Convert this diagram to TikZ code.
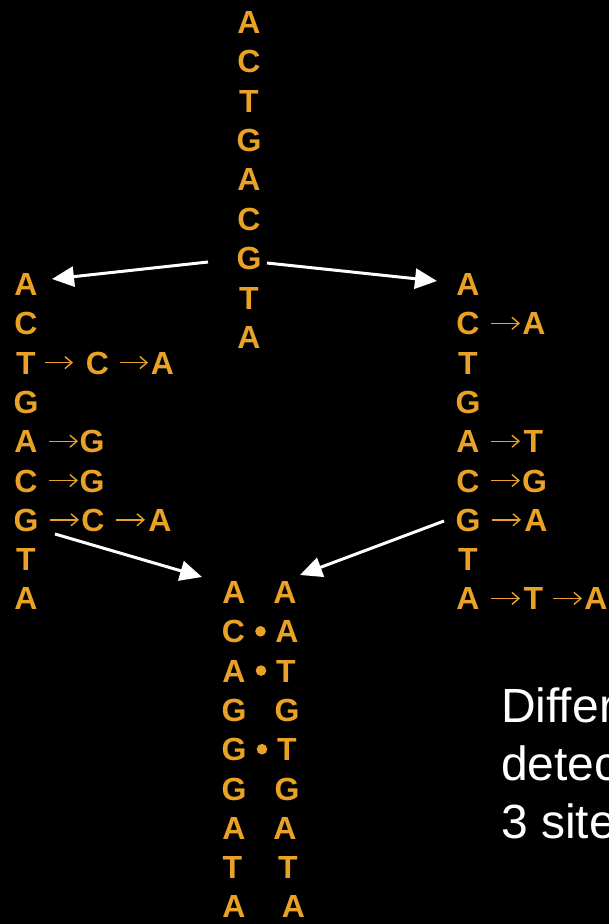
\documentclass[tikz,border=0pt]{standalone}
\usepackage{fontspec}
\setmainfont{Liberation Sans}
\usetikzlibrary{arrows.meta}
\definecolor{dnaorange}{RGB}{233,162,38}
\begin{document}
\begin{tikzpicture}[x=1pt,y=-1pt,
  letter/.style={anchor=base,inner sep=0pt,text=dnaorange,font=\bfseries\fontsize{32}{38}\selectfont},
  sarrow/.style={draw=dnaorange,line width=1.4pt,-{Straight Barb[length=7pt,width=12pt]}},
  bigarrow/.style={draw=white,line width=3pt,-{Triangle[length=22pt,width=20pt]}},
  note/.style={anchor=base west,inner sep=0pt,text=white,font=\fontsize{48}{58}\selectfont}]
\useasboundingbox (0,0) rectangle (609,924);
\fill[black] (0,0) rectangle (609,924);
\clip (0,0) rectangle (609,924);
% top sequence
\foreach \l [count=\i from 0] in {A,C,T,G,A,C,G,T,A}
  \node[letter] (t\i) at (249,{21.7+39.4*\i+11.5}) {\l};
% left sequence
\foreach \l [count=\i from 0] in {A,C,T,G,A,C,G,T,A}
  \node[letter] (l\i) at (26,{284+39.3*\i+11.5}) {\l};
% right sequence
\foreach \l [count=\i from 0] in {A,C,T,G,A,C,G,T,A}
  \node[letter] (r\i) at (468,{284+39.3*\i+11.5}) {\l};
% left substitutions
\node[letter] (l2b) at (97.5,374.1) {C};
\node[letter] (l2c) at (162.5,374.1) {A};
\node[letter] (l4b) at (92,452.7) {G};
\node[letter] (l5b) at (92,492.0) {G};
\node[letter] (l6b) at (93,531.3) {C};
\node[letter] (l6c) at (160,531.3) {A};
\draw[sarrow] (45,362.6) -- (73,362.6);
\draw[sarrow] (120,362.6) -- (148,362.6);
\draw[sarrow] (49,441.2) -- (78,441.2);
\draw[sarrow] (49,480.5) -- (78,480.5);
\draw[sarrow] (50,519.8) -- (79,519.8);
\draw[sarrow] (116,519.8) -- (145,519.8);
% right substitutions
\node[letter] (r1b) at (534,334.8) {A};
\node[letter] (r4b) at (533.5,452.7) {T};
\node[letter] (r5b) at (534.5,492.0) {G};
\node[letter] (r6b) at (536,531.3) {A};
\node[letter] (r8b) at (533.5,609.9) {T};
\node[letter] (r8c) at (596,609.9) {A};
\draw[sarrow] (491,323.3) -- (520,323.3);
\draw[sarrow] (491,441.2) -- (520,441.2);
\draw[sarrow] (491,480.5) -- (520,480.5);
\draw[sarrow] (492,519.8) -- (521,519.8);
\draw[sarrow] (491,598.4) -- (520,598.4);
\draw[sarrow] (553,598.4) -- (582,598.4);
% bottom aligned pair
\foreach \l/\x [count=\i from 0] in {A/234,C/233.5,A/234,G/234,G/234,G/234,A/234,T/232.5,A/234}
  \node[letter] (b\i) at (\x,{592+39.3*\i+11.5}) {\l};
\foreach \l/\x [count=\i from 0] in {A/285,A/287,T/286,G/287,T/287,G/287,A/285,T/288,A/293.5}
  \node[letter] (c\i) at (\x,{592+39.3*\i+11.5}) {\l};
\fill[dnaorange] (260.5,631.3) circle (5.3);
\fill[dnaorange] (261,670.6) circle (5.3);
\fill[dnaorange] (262,749.2) circle (5.3);
% white arrows
\coordinate (a1s) at (208,262);
\coordinate (a1e) at (52,279);
\coordinate (a2s) at (267,263);
\coordinate (a2e) at (437,281);
\coordinate (a3s) at (55,534);
\coordinate (a3e) at (202,577);
\coordinate (a4s) at (444,521);
\coordinate (a4e) at (300,575);
\draw[bigarrow] (a1s) -- (a1e);
\draw[bigarrow] (a2s) -- (a2e);
\draw[bigarrow] (a3s) -- (a3e);
\draw[bigarrow] (a4s) -- (a4e);
% note text
\node[note] (n1) at (501,722) {Differ};
\node[note] (n2) at (501,780) {detec};
\node[note] (n3) at (501,838) {3 site};
\end{tikzpicture}
\end{document}
